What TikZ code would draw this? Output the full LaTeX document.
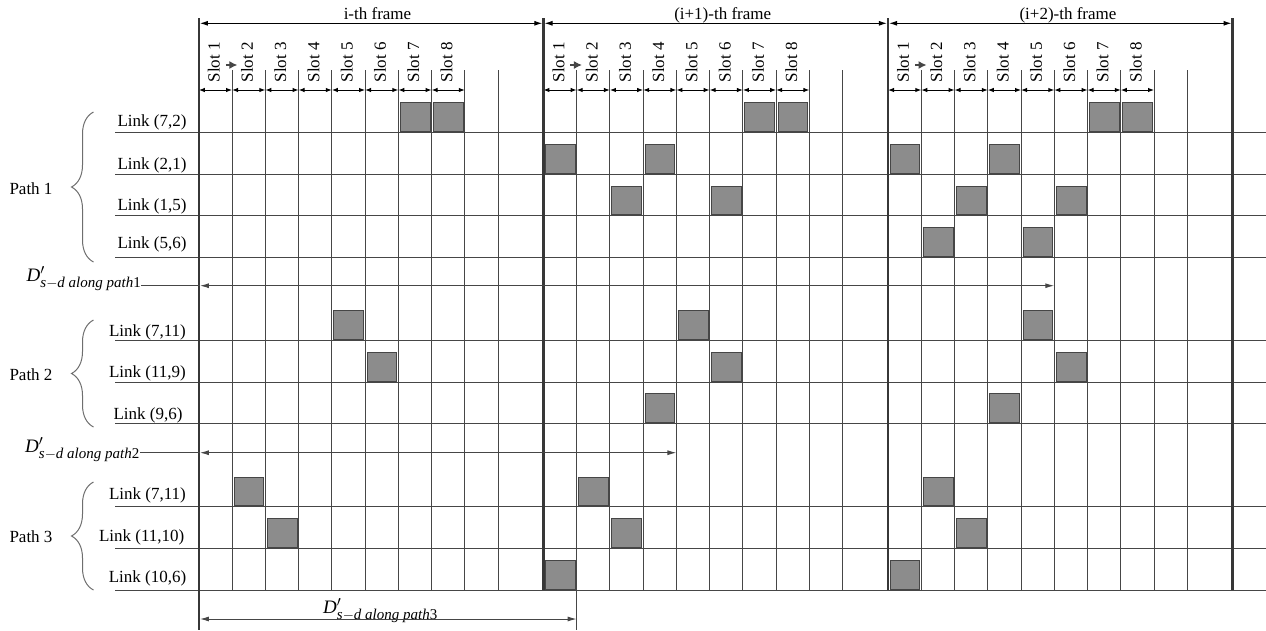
\documentclass[tikz,border=0pt]{standalone}
\usepackage{fontspec}
\usepackage{amsmath}
\setmainfont{Liberation Serif}
\usetikzlibrary{arrows.meta,decorations.pathreplacing,calc}
\definecolor{gridc}{RGB}{70,70,70}
\definecolor{framec}{RGB}{55,55,55}
\definecolor{boxfill}{RGB}{140,140,140}
\definecolor{boxedge}{RGB}{70,70,70}
\definecolor{bracec}{RGB}{110,110,110}
\newcommand{\dlab}[1]{$\text{\textit{D}}'_{\text{\fontsize{15}{17}\selectfont\textit{s}$-$\textit{d along path}#1}}$}
\begin{document}
\begin{tikzpicture}[x=1pt,y=-1pt,
  txt/.style={font=\fontsize{17}{20}\selectfont, inner sep=0pt},
  dtxt/.style={font=\fontsize{19}{21}\selectfont, inner sep=0pt, anchor=base west},
  gridline/.style={draw=gridc, line width=0.95pt},
  frameline/.style={draw=framec, line width=2.3pt},
  slotbox/.style={fill=boxfill, draw=boxedge, line width=1pt},
  framedim/.style={{Latex[length=8pt,width=5pt]}-{Latex[length=8pt,width=5pt]}, line width=1pt, black},
  slotdim/.style={{Latex[length=6pt,width=4.5pt]}-{Latex[length=6pt,width=4.5pt]}, line width=1pt, black},
  ddim/.style={{Latex[length=9pt,width=5pt]}-{Latex[length=9pt,width=5pt]}, line width=1pt, draw=gridc},
  minia/.style={-{Latex[length=8pt,width=8pt]}, line width=1.2pt, draw=gridc},
  bracep/.style={decorate, decoration={brace, amplitude=22pt}, draw=bracec, line width=1pt}
]
\useasboundingbox (0,0) rectangle (1266,630);

% horizontal row lines
\foreach \yy in {132.3,174,215.7,257.3,340,382,423.3,506.7,548.3,590}{
  \draw[gridline] (115,\yy) -- (1266,\yy);
}

% per frame columns, slot labels and slot arrows
\foreach \f in {0,1,2}{
  \pgfmathsetmacro{\X}{198.8+344.6*\f}
  \foreach \k in {1,...,9}{
    \draw[gridline] ({\X+33.25*\k},70) -- ({\X+33.25*\k},590);
  }
  \foreach \k in {1,...,8}{
    \draw[slotdim] ({\X+33.25*(\k-1)},90) -- ({\X+33.25*\k},90);
    \node[txt, rotate=90] (slot-\f-\k) at ({\X+33.25*(\k-0.5)-1.5},62.2) {Slot \k};
  }
  \coordinate (ma-\f) at ({\X+27},65);
  \coordinate (mb-\f) at ({\X+38.5},65);
  \draw[minia] (ma-\f) -- (mb-\f);
}

% boxes: frame/slot/row line
\foreach \f/\k/\yy in {
  0/7/132.3, 0/8/132.3, 1/7/132.3, 1/8/132.3, 2/7/132.3, 2/8/132.3,
  1/1/174, 1/4/174, 2/1/174, 2/4/174,
  1/3/215.7, 1/6/215.7, 2/3/215.7, 2/6/215.7,
  2/2/257.3, 2/5/257.3,
  0/5/340, 1/5/340, 2/5/340,
  0/6/382, 1/6/382, 2/6/382,
  1/4/423.3, 2/4/423.3,
  0/2/506.7, 1/2/506.7, 2/2/506.7,
  0/3/548.3, 1/3/548.3, 2/3/548.3,
  1/1/590, 2/1/590}{
  \pgfmathsetmacro{\xa}{198.8+344.6*\f+33.25*(\k-1)+2}
  \draw[slotbox] (\xa,\yy-0.9) rectangle (\xa+29.8,\yy-29.6);
}

% frame lines
\coordinate (f0t) at (198.8,18); \coordinate (f0b) at (198.8,630);
\coordinate (f1t) at (543.4,18); \coordinate (f1b) at (543.4,590);
\coordinate (f2t) at (888.0,18); \coordinate (f2b) at (888.0,590);
\coordinate (f3t) at (1232.6,18); \coordinate (f3b) at (1232.6,590);
\foreach \i in {0,1,2,3}{ \draw[frameline] (f\i t) -- (f\i b); }
\draw[gridline] (576.65,590) -- (576.65,630);

% frame dimension arrows and titles
\coordinate (a0) at (199.9,23.3); \coordinate (a1) at (542.3,23.3);
\coordinate (a1b) at (544.5,23.3); \coordinate (a2) at (886.9,23.3);
\coordinate (a2b) at (889.1,23.3); \coordinate (a3) at (1231.5,23.3);
\draw[framedim] (a0) -- (a1);
\draw[framedim] (a1b) -- (a2);
\draw[framedim] (a2b) -- (a3);
\node[txt, anchor=base] (fr0) at (377.5,19.5) {i-th frame};
\node[txt, anchor=base] (fr1) at (722.7,19.5) {(i+1)-th frame};
\node[txt, anchor=base] (fr2) at (1068,19.5) {(i+2)-th frame};

% link labels
\node[txt] (l72)  at (152,122.5) {Link (7,2)};
\node[txt] (l21)  at (152,165) {Link (2,1)};
\node[txt] (l15)  at (152,206.5) {Link (1,5)};
\node[txt] (l56)  at (152,244) {Link (5,6)};
\node[txt] (l711a) at (147.5,332) {Link (7,11)};
\node[txt] (l119) at (147.5,373.5) {Link (11,9)};
\node[txt] (l96)  at (148,415) {Link (9,6)};
\node[txt] (l711b) at (147.5,495) {Link (7,11)};
\node[txt] (l1110) at (141.7,537) {Link (11,10)};
\node[txt] (l106) at (147.5,578) {Link (10,6)};

% path labels and braces
\node[txt] (p1) at (31,188.5) {Path 1};
\node[txt] (p2) at (31,375) {Path 2};
\node[txt] (p3) at (31,536.5) {Path 3};
\draw[bracep] (93.5,262) -- (93.5,112);
\draw[bracep] (93.5,427) -- (93.5,320);
\draw[bracep] (93.5,590) -- (93.5,482);

% D' labels and arrows
\node[dtxt] (d1) at (26.5,281.7) {\dlab{1}};
\node[dtxt] (d2) at (25,452) {\dlab{2}};
\node[dtxt] (d3) at (323,613) {\dlab{3}};
\coordinate (d1s) at (199.9,285.7); \coordinate (d1e) at (1054.25,285.7);
\coordinate (d2s) at (199.9,452.7); \coordinate (d2e) at (676.4,452.7);
\coordinate (d3s) at (199.9,619);   \coordinate (d3e) at (576.65,619);
\draw[gridline] (d1.east |- d1s) -- (d1s);
\draw[gridline] (d2.east |- d2s) -- (d2s);
\draw[ddim] (d1s) -- (d1e);
\draw[ddim] (d2s) -- (d2e);
\draw[ddim] (d3s) -- (d3e);
\end{tikzpicture}
\end{document}
